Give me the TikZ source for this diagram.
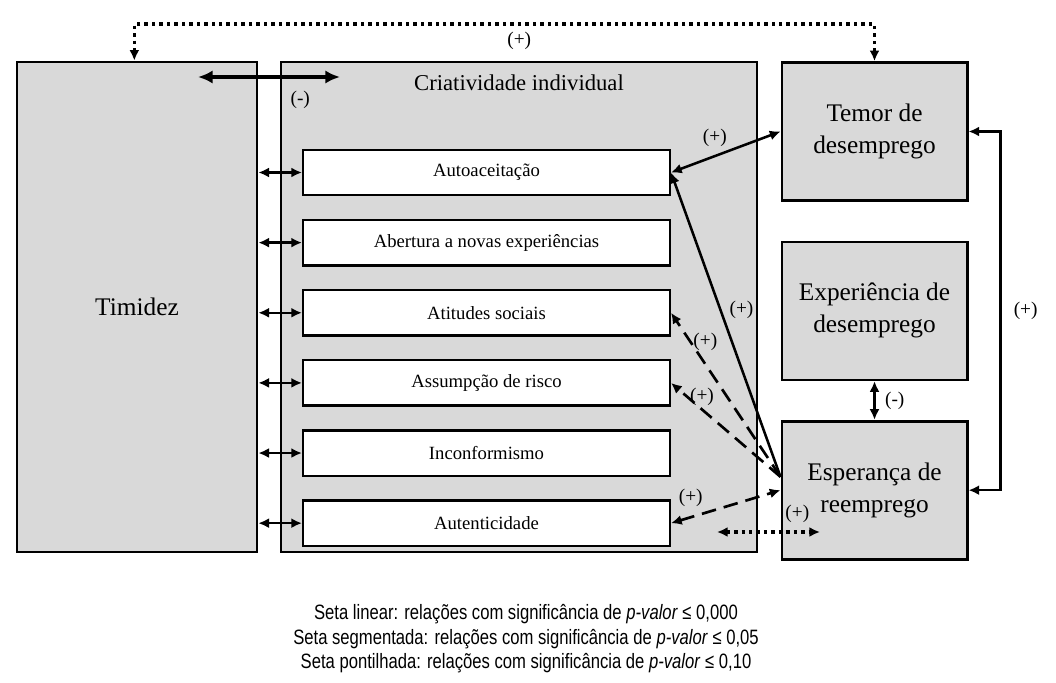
\documentclass[tikz,border=0pt]{standalone}
\usepackage{fontspec}
\setmainfont{Liberation Serif}
\newfontfamily\legendfont[FakeStretch=0.8]{Liberation Sans}
\usetikzlibrary{positioning,arrows.meta}

\begin{document}
\begin{tikzpicture}[x=0.75pt, y=-0.75pt, node distance=16.8pt,
    >={Latex[length=8pt,width=7.5pt]},
    bigbox/.style={draw, line width=2pt, fill=gray!30},
    dimbox/.style={draw, line width=1.8pt, fill=white, minimum width=275pt, minimum height=34pt, font=\fontsize{14}{16}\selectfont},
    sidebox/.style={bigbox, minimum width=139pt, minimum height=103.5pt, align=center, font=\fontsize{19}{24}\selectfont},
    link/.style={line width=1.9pt},
    seg/.style={link, line width=2pt, dash pattern=on 11pt off 6pt},
    pont/.style={line width=2.6pt, dash pattern=on 2.6pt off 3pt},
    sig/.style={font=\fontsize{14.5}{16}\selectfont, inner sep=1pt}]
  \useasboundingbox (0,0) rectangle (1056,682);

  % main blocks
  \node[bigbox, minimum width=180pt, minimum height=367.5pt, font=\fontsize{19}{22}\selectfont] (tim) at (137,307) {Timidez};
  \node[bigbox, minimum width=357pt, minimum height=367.5pt] (cri) at (519,307) {};
  \node[font=\fontsize{17}{20}\selectfont] (crititle) at ([yshift=-16.5pt]cri.north) {Criatividade individual};

  % dimensions of creativity
  \node[dimbox] (acei) at (486.5,172.5) {Autoaceitação};
  \node[dimbox, below=of acei] (aber) {Abertura a novas experiências};
  \node[dimbox, below=of aber] (atit) {Atitudes sociais};
  \node[dimbox, below=of atit] (risc) {Assumpção de risco};
  \node[dimbox, below=of risc] (inco) {Inconformismo};
  \node[dimbox, below=of inco] (aute) {Autenticidade};

  % unemployment blocks
  \node[sidebox] (temor) at (874.5,131.5) {Temor de\\desemprego};
  \node[sidebox, below=29pt of temor] (expe) {Experiência de\\desemprego};
  \node[sidebox, below=29pt of expe] (espe) {Esperança de\\reemprego};

  \coordinate (negL) at (198,77);
  \coordinate (negR) at (340,77);
  \coordinate (potL) at (717,532);
  \coordinate (potR) at (820,532);

  \draw[<->, pont] (temor.north) -- ++(0,-37) -| ([xshift=-2pt]tim.north) node[sig, pos=0.24, below=4pt] {(+)};
  \draw[<->, line width=3pt, >={Latex[length=11pt,width=10pt]}] (negL) -- (negR) node[sig, pos=0.72, below=8pt] {(-)};

  \foreach \d in {acei,aber,atit,risc,inco,aute}
    \draw[<->, link] (tim.east |- \d.west) -- (\d.west);

  \draw[<->, link] (acei.east) -- (temor.west) node[sig, pos=0.4, above=5pt] {(+)};
  \draw[->, link] ([yshift=10pt]espe.west) -- (acei.east) node[sig, pos=0.55, right=5pt] {(+)};
  \draw[->, seg] ([yshift=10pt]espe.west) -- (atit.east) node[sig, pos=0.82, right=0pt] {(+)};
  \draw[->, seg] ([yshift=10pt]espe.west) -- (risc.east) node[sig, pos=0.85, right=0pt] {(+)};
  \draw[<->, seg] (aute.east) -- (espe.west) node[sig, pos=0.18, above=6pt] {(+)};
  \draw[<->, pont] (potL) -- (potR) node[sig, pos=0.78, above=5pt] {(+)};
  \draw[<->, link] (expe) -- (espe) node[sig, midway, right=6pt] {(-)};
  \draw[<->, link] (temor.east) -- ++(32,0) |- (espe.east) node[sig, pos=0.25, right=8pt] {(+)};

  % legend
  \node[font=\legendfont\fontsize{15.6}{18.4}\selectfont, align=center] (legenda) at (526,639)
    {Seta linear: relações com significância de \textit{p-valor} ≤ 0,000\\
     Seta segmentada: relações com significância de \textit{p-valor} ≤ 0,05\\
     Seta pontilhada: relações com significância de \textit{p-valor} ≤ 0,10};
\end{tikzpicture}
\end{document}
